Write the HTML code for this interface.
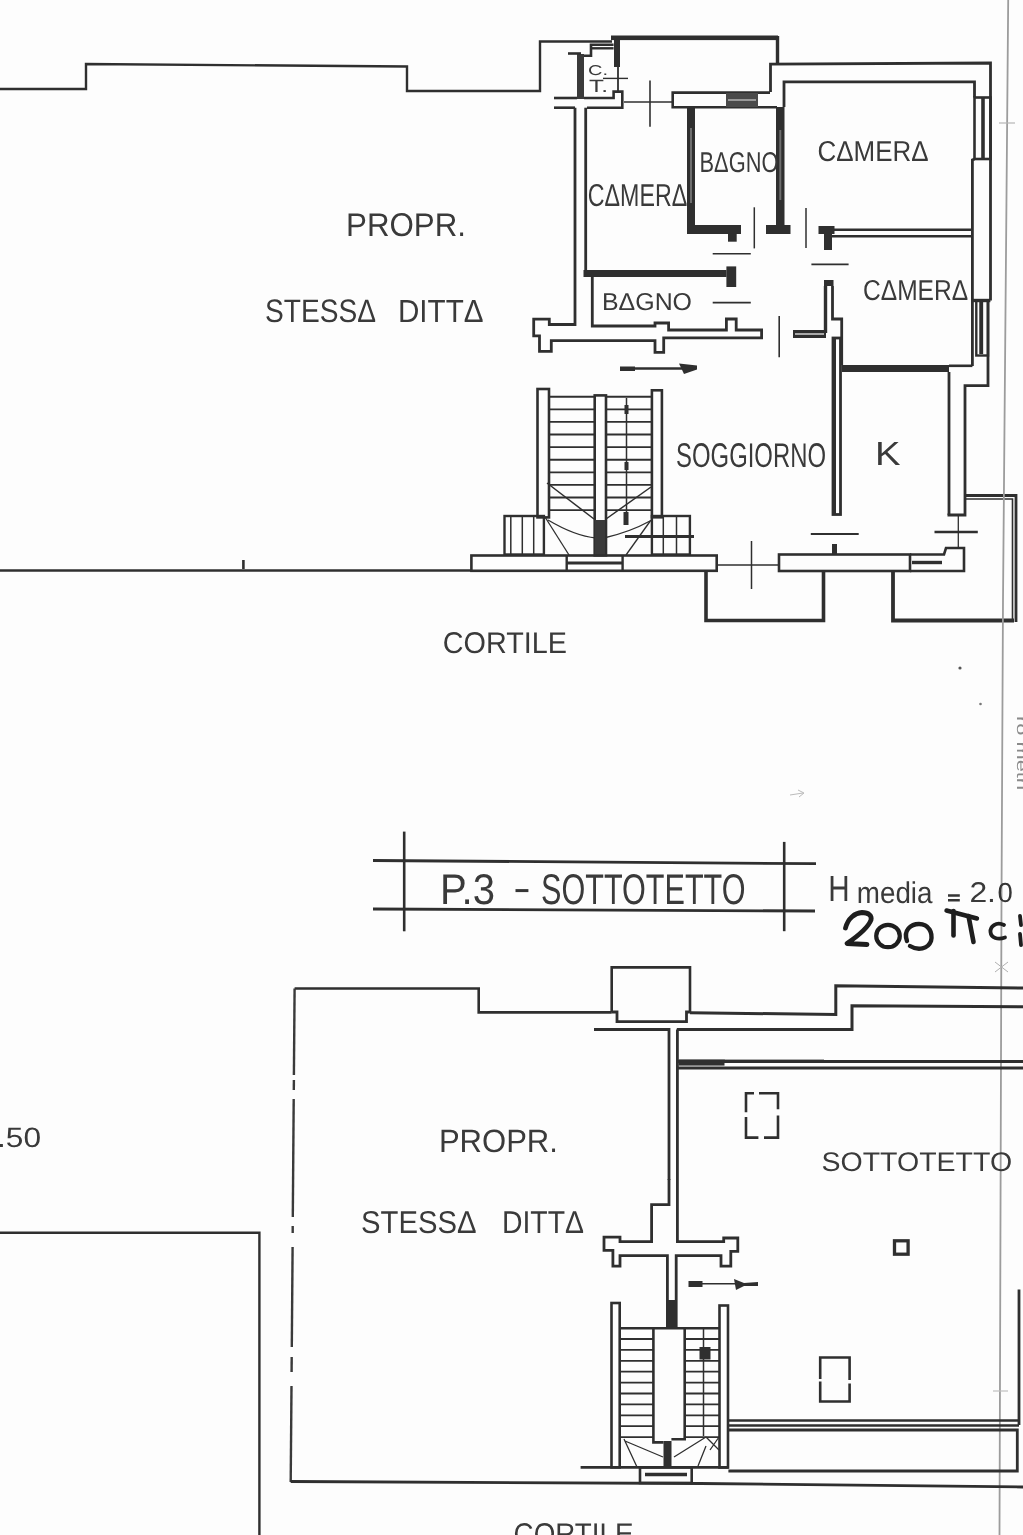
<!DOCTYPE html>
<html><head><meta charset="utf-8">
<style>
html,body{margin:0;padding:0;background:#fdfdfc;}
body{width:1023px;height:1535px;overflow:hidden;position:relative;}
svg{position:absolute;left:0;top:0;filter:grayscale(1) blur(0.4px);}
.t{font-family:"Liberation Sans",sans-serif;text-rendering:geometricPrecision;}
</style></head>
<body>
<svg width="1023" height="1535" viewBox="0 0 1023 1535">
<rect x="0" y="0" width="1023" height="1535" fill="#fdfdfc"/>
<path d="M0,89 H86 V64 L407,66.5 V91 H540 V41.5 H612" stroke="#2f2f2f" stroke-width="2.4" fill="none" />
<path d="M0,570.5 H472" stroke="#2f2f2f" stroke-width="2.4" fill="none" />
<path d="M243.4,560 V569" stroke="#2f2f2f" stroke-width="2.6" fill="none" />
<rect x="611" y="35.5" width="167" height="4.6" fill="#2f2f2f"/>
<rect x="614" y="36" width="6" height="31" fill="#2f2f2f"/>
<path d="M618,67 V92" stroke="#2f2f2f" stroke-width="1.8" fill="none" />
<path d="M777.5,36 V64.5" stroke="#2f2f2f" stroke-width="3.4" fill="none" />
<path d="M770.5,92 V64.2 L990.5,63 V300.5" stroke="#2f2f2f" stroke-width="2.8" fill="none" />
<path d="M988,300.5 V385.6 H965 V515 H947.5" stroke="#2f2f2f" stroke-width="2.8" fill="none" />
<path d="M784,107 V81.8 H974.5 V97.5" stroke="#2f2f2f" stroke-width="2.8" fill="none" />
<rect x="974.5" y="97.5" width="16" height="61.5" fill="none" stroke="#2f2f2f" stroke-width="2.6"/>
<path d="M983,98 V158" stroke="#2f2f2f" stroke-width="3.6" fill="none" />
<path d="M974.5,159 L972.4,160 V366" stroke="#2f2f2f" stroke-width="2.8" fill="none" />
<path d="M832,229.7 H972.4" stroke="#2f2f2f" stroke-width="2.6" fill="none" />
<path d="M832,236.3 H972.4" stroke="#2f2f2f" stroke-width="2.6" fill="none" />
<path d="M972.4,300.5 H990.4" stroke="#2f2f2f" stroke-width="3.4" fill="none" />
<rect x="976.3" y="300.5" width="11.7" height="55" fill="none" stroke="#2f2f2f" stroke-width="2.4"/>
<path d="M981.2,302 V354" stroke="#2f2f2f" stroke-width="3.9" fill="none" />
<rect x="842" y="365" width="107" height="7" fill="#2f2f2f"/>
<path d="M949,365.8 H972.4" stroke="#2f2f2f" stroke-width="2.6" fill="none" />
<path d="M949,372 V515" stroke="#2f2f2f" stroke-width="2.8" fill="none" />
<rect x="833" y="338" width="7.5" height="176.5" fill="none" stroke="#2f2f2f" stroke-width="2.8"/>
<rect x="833" y="338" width="3" height="176" fill="#2f2f2f"/>
<rect x="824" y="280" width="9.5" height="6" fill="#2f2f2f"/>
<path d="M825.5,286 V333" stroke="#2f2f2f" stroke-width="3.4" fill="none" />
<path d="M832.5,286 V319 H841.7 V365" stroke="#2f2f2f" stroke-width="2.8" fill="none" />
<rect x="793" y="330" width="33" height="8" fill="#2f2f2f"/>
<path d="M795,334 H824" stroke="#fcfcfa" stroke-width="1.2" fill="none" />
<rect x="687" y="107" width="8" height="127" fill="#2f2f2f"/>
<rect x="690" y="128" width="2" height="75" fill="#6e6e6e"/>
<rect x="687" y="225" width="54" height="9" fill="#2f2f2f"/>
<rect x="728" y="233.7" width="8.7" height="8" fill="#2f2f2f"/>
<rect x="776" y="107" width="8.5" height="120" fill="#2f2f2f"/>
<rect x="779.3" y="130" width="2" height="70" fill="#6e6e6e"/>
<rect x="766" y="225" width="24.5" height="9" fill="#2f2f2f"/>
<path d="M770,92.6 H672.7 V107.2 H777" stroke="#2f2f2f" stroke-width="2.6" fill="none" />
<rect x="726" y="93" width="32" height="14" fill="#4a4a4a"/>
<path d="M728,100 H756" stroke="#cfcfcf" stroke-width="1.2" fill="none" />
<path d="M624,102 H672.7" stroke="#2f2f2f" stroke-width="1.6" fill="none" />
<path d="M650,80.6 V126.8" stroke="#2f2f2f" stroke-width="1.6" fill="none" />
<rect x="577" y="54" width="7" height="45" fill="#3a3a3a"/>
<path d="M568,53.5 H581" stroke="#2f2f2f" stroke-width="2.6" fill="none" />
<path d="M613.6,44.7 H591 V55.7 H584" stroke="#2f2f2f" stroke-width="2.6" fill="none" />
<path d="M591,48.3 H613.6" stroke="#2f2f2f" stroke-width="2.4" fill="none" />
<path d="M584,98 H613.6 V91.6 H622.3 V107.7 H587" stroke="#2f2f2f" stroke-width="2.6" fill="none" />
<path d="M554,98 H577" stroke="#2f2f2f" stroke-width="2.6" fill="none" />
<path d="M554,107.7 H575" stroke="#2f2f2f" stroke-width="2.6" fill="none" />
<path d="M603,78.4 H628" stroke="#2f2f2f" stroke-width="1.4" fill="none" />
<path d="M575,107.7 V324.5 H549.3 V319.2 H533.7 V335.8 H539.5 V351.4 H551.3 V340.7 H655 V352.4 H663.7 V337.8 H761.6 V330 H736.2 V319 H726.4 V330 H668.6 V323 H655 V326 H592.3 V277" stroke="#2f2f2f" stroke-width="2.8" fill="none" />
<path d="M585.7,107.7 V270.5" stroke="#2f2f2f" stroke-width="2.8" fill="none" />
<rect x="583.5" y="270" width="143" height="7" fill="#2f2f2f"/>
<rect x="726.4" y="266.4" width="9.8" height="20.6" fill="#2f2f2f"/>
<path d="M754.3,207.3 V248.4" stroke="#2f2f2f" stroke-width="1.5" fill="none" />
<path d="M806,208 V248" stroke="#2f2f2f" stroke-width="1.5" fill="none" />
<path d="M712.7,253.7 H750.8" stroke="#2f2f2f" stroke-width="1.6" fill="none" />
<path d="M712.7,302.6 H750.8" stroke="#2f2f2f" stroke-width="1.6" fill="none" />
<path d="M811.4,264.4 H848.6" stroke="#2f2f2f" stroke-width="1.6" fill="none" />
<path d="M779.2,316 V357.3" stroke="#2f2f2f" stroke-width="1.6" fill="none" />
<rect x="818.5" y="226" width="16" height="8" fill="#2f2f2f"/>
<rect x="824" y="234" width="8" height="16" fill="#2f2f2f"/>
<path d="M622,368.5 H690" stroke="#2f2f2f" stroke-width="2.4" fill="none" />
<rect x="620" y="366.5" width="15" height="4.5" fill="#2f2f2f"/>
<path d="M679,363.5 L697,365.5 L697,369.5 L684,374 Z" fill="#2f2f2f"/>
<rect x="537.5" y="389" width="11.5" height="128.4" fill="none" stroke="#2f2f2f" stroke-width="2.6"/>
<rect x="651.9" y="390.3" width="10" height="127" fill="none" stroke="#2f2f2f" stroke-width="2.6"/>
<rect x="594.7" y="395.4" width="11.3" height="160" fill="none" stroke="#2f2f2f" stroke-width="2.6"/>
<path d="M549,396.7 H594.7" stroke="#2f2f2f" stroke-width="1.85" fill="none" />
<path d="M606,396.7 H651.9" stroke="#2f2f2f" stroke-width="1.85" fill="none" />
<path d="M549,409.3 H594.7" stroke="#2f2f2f" stroke-width="1.85" fill="none" />
<path d="M606,409.3 H651.9" stroke="#2f2f2f" stroke-width="1.85" fill="none" />
<path d="M549,421.9 H594.7" stroke="#2f2f2f" stroke-width="1.85" fill="none" />
<path d="M606,421.9 H651.9" stroke="#2f2f2f" stroke-width="1.85" fill="none" />
<path d="M549,434.5 H594.7" stroke="#2f2f2f" stroke-width="1.85" fill="none" />
<path d="M606,434.5 H651.9" stroke="#2f2f2f" stroke-width="1.85" fill="none" />
<path d="M549,447.1 H594.7" stroke="#2f2f2f" stroke-width="1.85" fill="none" />
<path d="M606,447.1 H651.9" stroke="#2f2f2f" stroke-width="1.85" fill="none" />
<path d="M549,459.7 H594.7" stroke="#2f2f2f" stroke-width="1.85" fill="none" />
<path d="M606,459.7 H651.9" stroke="#2f2f2f" stroke-width="1.85" fill="none" />
<path d="M549,472.3 H594.7" stroke="#2f2f2f" stroke-width="1.85" fill="none" />
<path d="M606,472.3 H651.9" stroke="#2f2f2f" stroke-width="1.85" fill="none" />
<path d="M549,484.9 H594.7" stroke="#2f2f2f" stroke-width="1.85" fill="none" />
<path d="M606,484.9 H651.9" stroke="#2f2f2f" stroke-width="1.85" fill="none" />
<path d="M549,497.5 H594.7" stroke="#2f2f2f" stroke-width="1.85" fill="none" />
<path d="M606,497.5 H651.9" stroke="#2f2f2f" stroke-width="1.85" fill="none" />
<path d="M549,510.1 H594.7" stroke="#2f2f2f" stroke-width="1.85" fill="none" />
<path d="M606,510.1 H651.9" stroke="#2f2f2f" stroke-width="1.85" fill="none" />
<rect x="504.5" y="516" width="39.4" height="38.5" fill="none" stroke="#2f2f2f" stroke-width="2.4"/>
<path d="M510.8,516 V554.5" stroke="#2f2f2f" stroke-width="1.5" fill="none" />
<path d="M522.3,516 V554.5" stroke="#2f2f2f" stroke-width="1.5" fill="none" />
<path d="M533.7,516 V554.5" stroke="#2f2f2f" stroke-width="1.5" fill="none" />
<rect x="651.9" y="516" width="38" height="38.5" fill="none" stroke="#2f2f2f" stroke-width="2.4"/>
<path d="M663.3,516 V554.5" stroke="#2f2f2f" stroke-width="1.5" fill="none" />
<path d="M676.5,516 V554.5" stroke="#2f2f2f" stroke-width="1.5" fill="none" />
<path d="M625,536.5 H694" stroke="#2f2f2f" stroke-width="3.0" fill="none" />
<path d="M547,483 L594,519" stroke="#2f2f2f" stroke-width="1.5" fill="none" />
<path d="M651,487 L606,519" stroke="#2f2f2f" stroke-width="1.5" fill="none" />
<path d="M545,517 L569,555" stroke="#2f2f2f" stroke-width="1.3" fill="none" />
<path d="M651,520 L626,555" stroke="#2f2f2f" stroke-width="1.3" fill="none" />
<path d="M548,520 Q575,536 596,538" stroke="#2f2f2f" stroke-width="1.3" fill="none" />
<path d="M604,538 Q630,532 650,521" stroke="#2f2f2f" stroke-width="1.3" fill="none" />
<path d="M626.5,398 V525" stroke="#2f2f2f" stroke-width="1.5" fill="none" />
<rect x="624.5" y="405" width="4" height="9" fill="#2f2f2f"/>
<rect x="624.5" y="462" width="4" height="8" fill="#2f2f2f"/>
<rect x="623.5" y="512" width="5" height="13" fill="#2f2f2f"/>
<rect x="595" y="520" width="10" height="35" fill="#3a3a3a"/>
<rect x="471.4" y="555.5" width="245.3" height="15.3" fill="none" stroke="#2f2f2f" stroke-width="2.6"/>
<path d="M566.7,555.5 V570.8 M622.6,555.5 V570.8" stroke="#2f2f2f" stroke-width="2.4" fill="none" />
<path d="M566.7,563 H622.6" stroke="#2f2f2f" stroke-width="2.9" fill="none" />
<path d="M716.7,565 H779" stroke="#2f2f2f" stroke-width="1.5" fill="none" />
<path d="M751.5,541 V589" stroke="#2f2f2f" stroke-width="1.5" fill="none" />
<rect x="779" y="554.5" width="131" height="16.5" fill="none" stroke="#2f2f2f" stroke-width="2.6"/>
<path d="M912,562.5 H942" stroke="#2f2f2f" stroke-width="3.4" fill="none" />
<path d="M910,554.5 H944 L946,548 H964 V571 H910" stroke="#2f2f2f" stroke-width="2.6" fill="none" />
<rect x="832" y="544" width="5" height="10.5" fill="#2f2f2f"/>
<path d="M706,571 V620.5 H823.5 V571" stroke="#2f2f2f" stroke-width="3.6" fill="none" />
<path d="M893,571 V620.5 H1014" stroke="#2f2f2f" stroke-width="3.8" fill="none" />
<path d="M964,495.5 H1016 V622" stroke="#2f2f2f" stroke-width="2.8" fill="none" />
<path d="M964,499 H1012.5 V619" stroke="#2f2f2f" stroke-width="1.6" fill="none" />
<path d="M958.3,515 V548" stroke="#2f2f2f" stroke-width="1.3" fill="none" />
<path d="M934.5,532 H977.8" stroke="#2f2f2f" stroke-width="2.4" fill="none" />
<path d="M810.8,534 H858.7" stroke="#2f2f2f" stroke-width="1.8" fill="none" />
<path d="M1008.2,0 L1003,600 L1001.5,900 L999.5,1535" stroke="#9c9c9c" stroke-width="1.8" fill="none" />
<path d="M999,123 H1015" stroke="#b5b5b5" stroke-width="1.2" fill="none" />
<path d="M993,1391 H1008" stroke="#c0c0c0" stroke-width="1.2" fill="none" />
<path d="M995,962 L1008,972 M1008,962 L995,972" stroke="#b0b0b0" stroke-width="1" fill="none" />
<text x="0" y="0" font-size="14" fill="#8a8a8a" class="t" transform="translate(1016.5,716) rotate(90)" textLength="74" lengthAdjust="spacingAndGlyphs">ro metri</text>
<path d="M373,860.5 L816,863.7" stroke="#2f2f2f" stroke-width="2.8" fill="none" />
<path d="M373,909 L815,911" stroke="#2f2f2f" stroke-width="2.8" fill="none" />
<path d="M404.2,831.6 V931.3" stroke="#2f2f2f" stroke-width="2.6" fill="none" />
<path d="M784.2,841.9 V931.2" stroke="#2f2f2f" stroke-width="2.6" fill="none" />
<path d="M845.5,928 C848,918 855,913 862,912.5 C869,912.5 872,916 871,920 C868,928 855,938 847,943.5 L867,944.5" stroke="#1e1e1e" stroke-width="4.8" fill="none" stroke-linecap="round" stroke-linejoin="round"/>
<ellipse cx="888" cy="936" rx="11.8" ry="11.2" stroke="#1e1e1e" stroke-width="4.2" fill="none"/>
<path d="M907,941 C903,930 911,924 919,924 C929,924 933,933 931,941 C928,949 918,951 910,946" stroke="#1e1e1e" stroke-width="4.4" fill="none" stroke-linecap="round" stroke-linejoin="round"/>
<path d="M946.5,910.5 L977,918.5" stroke="#1e1e1e" stroke-width="4.4" fill="none" stroke-linecap="round" stroke-linejoin="round"/>
<path d="M953.5,911 L953.5,935.5" stroke="#1e1e1e" stroke-width="4.6" fill="none" stroke-linecap="round" stroke-linejoin="round"/>
<path d="M968.5,916 L973.5,942" stroke="#1e1e1e" stroke-width="4.6" fill="none" stroke-linecap="round" stroke-linejoin="round"/>
<path d="M1004,925 C996,921 990,927 990.5,932 C991,938 998,940 1005,937.5" stroke="#1e1e1e" stroke-width="3.8" fill="none" stroke-linecap="round" stroke-linejoin="round"/>
<path d="M1020,916 L1021,925 M1020,934 L1021,945" stroke="#1e1e1e" stroke-width="3.8" fill="none" stroke-linecap="round" stroke-linejoin="round"/>
<circle cx="960" cy="668" r="1.6" fill="#555"/>
<circle cx="980.5" cy="704" r="1.3" fill="#777"/>
<path d="M790,795 L803,793 M798,790 L804,793 L799,797" stroke="#bbb" stroke-width="1" fill="none" />
<path d="M294.6,988.5 H478.7 V1012.4 H611.7" stroke="#2f2f2f" stroke-width="2.6" fill="none" />
<path d="M294.6,988.5 L293.9,1075" stroke="#3a3a3a" stroke-width="2.4" fill="none" />
<path d="M293.9,1080 L293.8,1090" stroke="#3a3a3a" stroke-width="2.4" fill="none" />
<path d="M293.7,1099 L292.8,1217" stroke="#3a3a3a" stroke-width="2.4" fill="none" />
<path d="M292.7,1226 L292.7,1233" stroke="#3a3a3a" stroke-width="2.4" fill="none" />
<path d="M292.6,1247 L291.8,1347" stroke="#3a3a3a" stroke-width="2.4" fill="none" />
<path d="M291.7,1357 L291.6,1372" stroke="#3a3a3a" stroke-width="2.4" fill="none" />
<path d="M291.5,1386 L290.7,1482" stroke="#3a3a3a" stroke-width="2.4" fill="none" />
<path d="M611.7,1012.4 V967.4 H690 V1012.8" stroke="#2f2f2f" stroke-width="2.6" fill="none" />
<path d="M611.7,1012 H617 V1021.6 H686.5 V1012 H690" stroke="#2f2f2f" stroke-width="2.8" fill="none" />
<path d="M690,1012.8 L835.8,1014.5 V985.7 L1023,988" stroke="#2f2f2f" stroke-width="3.0" fill="none" />
<path d="M594,1029.5 H669 V1180" stroke="#2f2f2f" stroke-width="2.8" fill="none" />
<path d="M676.8,1029.5 H852 V1005.8 L1023,1006.8" stroke="#2f2f2f" stroke-width="3.0" fill="none" />
<rect x="678.5" y="1059.4" width="46" height="6.2" fill="#2f2f2f"/>
<rect x="724" y="1059.6" width="100" height="3.4" fill="#2f2f2f"/>
<path d="M677.7,1061.5 H1023" stroke="#2f2f2f" stroke-width="2.8" fill="none" />
<path d="M677.7,1068 H1023" stroke="#2f2f2f" stroke-width="2.8" fill="none" />
<path d="M754,1093.2 H746 V1112.3 M746,1117 V1137.6 H758.4 M764,1137.6 H778 V1115.5 M778,1109.3 V1093.2 H759" stroke="#2f2f2f" stroke-width="2.6" fill="none" />
<rect x="894.5" y="1240.8" width="13.6" height="13.4" fill="none" stroke="#2f2f2f" stroke-width="3.3"/>
<path d="M820.2,1379 V1357.5 H849.6 V1380 M849.6,1383.6 V1401.5 H820.2 V1381.5" stroke="#2f2f2f" stroke-width="2.6" fill="none" />
<path d="M669,1179 V1204.6 H651.6 V1241.6 H620 V1237.2 H604 V1250.4 H612.9 V1266.2 H620 V1255.7 H667.4 V1328" stroke="#2f2f2f" stroke-width="2.8" fill="none" />
<path d="M677.4,1029.5 V1241.6 H723.7 V1238 H737.8 V1251.3 H730.8 V1266.2 H721 V1255.7 H676.2 V1328" stroke="#2f2f2f" stroke-width="2.8" fill="none" />
<rect x="667.5" y="1300" width="9" height="28" fill="#2f2f2f"/>
<path d="M690,1283.8 H750" stroke="#2f2f2f" stroke-width="1.6" fill="none" />
<rect x="688.5" y="1281" width="14" height="6" fill="#2f2f2f"/>
<path d="M734,1279 L744,1283 L758,1282 L758,1286 L744,1286 L736,1290 Z" fill="#2f2f2f"/>
<rect x="611.5" y="1303" width="8.2" height="164.4" fill="none" stroke="#2f2f2f" stroke-width="2.6"/>
<rect x="719.5" y="1305.5" width="8.5" height="162" fill="none" stroke="#2f2f2f" stroke-width="2.6"/>
<path d="M619.7,1328.2 H719.5" stroke="#2f2f2f" stroke-width="2.4" fill="none" />
<path d="M653.4,1329 V1442.4 H663.5 M684.7,1329 V1439.3 H671.4" stroke="#2f2f2f" stroke-width="2.6" fill="none" />
<path d="M619.7,1339.0 H653.4" stroke="#2f2f2f" stroke-width="1.8" fill="none" />
<path d="M684.7,1339.0 H719.5" stroke="#2f2f2f" stroke-width="1.8" fill="none" />
<path d="M619.7,1349.9 H653.4" stroke="#2f2f2f" stroke-width="1.8" fill="none" />
<path d="M684.7,1349.9 H719.5" stroke="#2f2f2f" stroke-width="1.8" fill="none" />
<path d="M619.7,1360.8 H653.4" stroke="#2f2f2f" stroke-width="1.8" fill="none" />
<path d="M684.7,1360.8 H719.5" stroke="#2f2f2f" stroke-width="1.8" fill="none" />
<path d="M619.7,1371.7 H653.4" stroke="#2f2f2f" stroke-width="1.8" fill="none" />
<path d="M684.7,1371.7 H719.5" stroke="#2f2f2f" stroke-width="1.8" fill="none" />
<path d="M619.7,1382.6 H653.4" stroke="#2f2f2f" stroke-width="1.8" fill="none" />
<path d="M684.7,1382.6 H719.5" stroke="#2f2f2f" stroke-width="1.8" fill="none" />
<path d="M619.7,1393.5 H653.4" stroke="#2f2f2f" stroke-width="1.8" fill="none" />
<path d="M684.7,1393.5 H719.5" stroke="#2f2f2f" stroke-width="1.8" fill="none" />
<path d="M619.7,1404.4 H653.4" stroke="#2f2f2f" stroke-width="1.8" fill="none" />
<path d="M684.7,1404.4 H719.5" stroke="#2f2f2f" stroke-width="1.8" fill="none" />
<path d="M619.7,1415.3 H653.4" stroke="#2f2f2f" stroke-width="1.8" fill="none" />
<path d="M684.7,1415.3 H719.5" stroke="#2f2f2f" stroke-width="1.8" fill="none" />
<path d="M619.7,1426.2 H653.4" stroke="#2f2f2f" stroke-width="1.8" fill="none" />
<path d="M684.7,1426.2 H719.5" stroke="#2f2f2f" stroke-width="1.8" fill="none" />
<path d="M619.7,1437.1 H653.4" stroke="#2f2f2f" stroke-width="1.8" fill="none" />
<path d="M684.7,1437.1 H719.5" stroke="#2f2f2f" stroke-width="1.8" fill="none" />
<path d="M703.5,1329 V1436" stroke="#2f2f2f" stroke-width="1.5" fill="none" />
<rect x="699.5" y="1347" width="11" height="12.5" fill="#2f2f2f"/>
<rect x="663.5" y="1441" width="8" height="26.4" fill="#2f2f2f"/>
<path d="M624,1439 L637,1467 M625,1441 L663,1457 M706,1437 L674,1457 M706,1446 L698,1466 M706,1437 L719,1450 M710,1450 L719,1437" stroke="#2f2f2f" stroke-width="1.3" fill="none" />
<path d="M580.6,1467.4 H728.4" stroke="#2f2f2f" stroke-width="2.6" fill="none" />
<rect x="640" y="1467.4" width="51.7" height="15.6" fill="none" stroke="#2f2f2f" stroke-width="2.6"/>
<path d="M645,1474.5 H687" stroke="#2f2f2f" stroke-width="3.4" fill="none" />
<path d="M727.7,1420.5 H1019" stroke="#2f2f2f" stroke-width="2.6" fill="none" />
<path d="M727.7,1425.5 H1019" stroke="#2f2f2f" stroke-width="2.4" fill="none" />
<path d="M1019,1289.5 V1425" stroke="#2f2f2f" stroke-width="2.8" fill="none" />
<path d="M728.4,1430 H1017.3 V1471 H728.4" stroke="#2f2f2f" stroke-width="2.8" fill="none" />
<path d="M290.7,1481.5 L700,1483.5 L1023,1487" stroke="#2f2f2f" stroke-width="2.8" fill="none" />
<path d="M0,1232.7 H259.4 V1535" stroke="#2f2f2f" stroke-width="2.4" fill="none" />
<g opacity="0.99">
<text x="346.0" y="236.20000000000002" font-size="32.8" fill="#383838" class="t" textLength="120.0" lengthAdjust="spacingAndGlyphs" >PROPR.</text>
<text x="265.0" y="322.0" font-size="32.5" fill="#383838" class="t" textLength="111.0" lengthAdjust="spacingAndGlyphs" >STESSΔ</text>
<text x="587.8000000000001" y="206.0" font-size="31.68" fill="#383838" class="t" textLength="99.39999999999995" lengthAdjust="spacingAndGlyphs" >CΔMERΔ</text>
<text x="699.5" y="172.0" font-size="28.7" fill="#383838" class="t" textLength="78.89999999999995" lengthAdjust="spacingAndGlyphs" >BΔGNO</text>
<text x="817.5" y="161.0" font-size="28.82" fill="#383838" class="t" textLength="111.0" lengthAdjust="spacingAndGlyphs" >CΔMERΔ</text>
<text x="863.0" y="299.8" font-size="28.82" fill="#383838" class="t" textLength="105.10000000000005" lengthAdjust="spacingAndGlyphs" >CΔMERΔ</text>
<text x="602.0" y="310.2" font-size="24.4" fill="#383838" class="t" textLength="90.0" lengthAdjust="spacingAndGlyphs" >BΔGNO</text>
<text x="676.1" y="466.5" font-size="34.22" fill="#383838" class="t" textLength="149.89999999999995" lengthAdjust="spacingAndGlyphs" >SOGGIORNO</text>
<text x="875.0" y="465.09999999999997" font-size="33.38" fill="#383838" class="t" textLength="25.5" lengthAdjust="spacingAndGlyphs" >K</text>
<text x="442.8" y="652.6" font-size="29.95" fill="#383838" class="t" textLength="124.19999999999997" lengthAdjust="spacingAndGlyphs" >CORTILE</text>
<text x="440.0" y="903.5" font-size="42.91" fill="#383838" class="t" textLength="55.0" lengthAdjust="spacingAndGlyphs" >P.3</text>
<text x="438.90000000000003" y="1152.0" font-size="32.26" fill="#383838" class="t" textLength="118.99999999999994" lengthAdjust="spacingAndGlyphs" >PROPR.</text>
<text x="361.0" y="1233.0" font-size="31.57" fill="#383838" class="t" textLength="115.5" lengthAdjust="spacingAndGlyphs" >STESSΔ</text>
<text x="821.5" y="1171.0" font-size="26.93" fill="#383838" class="t" textLength="190.60000000000005" lengthAdjust="spacingAndGlyphs" >SOTTOTETTO</text>
<text x="513.6" y="1543.5" font-size="29.95" fill="#383838" class="t" textLength="119.89999999999995" lengthAdjust="spacingAndGlyphs" >CORTILE</text>
<text x="-3.0" y="1147.1000000000001" font-size="27.94" fill="#383838" class="t" textLength="44.0" lengthAdjust="spacingAndGlyphs" >.50</text>
<text x="588.0" y="74.5" font-size="14.17" fill="#383838" class="t" textLength="20.0" lengthAdjust="spacingAndGlyphs" >C.</text>
<text x="589.0" y="91.8" font-size="17.66" fill="#383838" class="t" textLength="19.0" lengthAdjust="spacingAndGlyphs" >T.</text>
<text x="541.0" y="903.5" font-size="42.91" fill="#383838" class="t" textLength="204.5" lengthAdjust="spacingAndGlyphs" >SOTTOTETTO</text>
<text x="828.1999999999999" y="900.8000000000001" font-size="36.46" fill="#383838" class="t" textLength="21.400000000000023" lengthAdjust="spacingAndGlyphs" >H</text>
<text x="856.8000000000001" y="902.8000000000001" font-size="30.04" fill="#383838" class="t" textLength="75.69999999999996" lengthAdjust="spacingAndGlyphs" >media</text>
<text x="969.4" y="901.8000000000001" font-size="28.5" fill="#383838" class="t" textLength="26.599999999999977" lengthAdjust="spacingAndGlyphs" >2.</text>
<text x="398.0" y="322.0" font-size="31.87" fill="#383838" class="t" textLength="85.49999999999997" lengthAdjust="spacingAndGlyphs" >DITTΔ</text>
<text x="502.0" y="1233.0" font-size="31.57" fill="#383838" class="t" textLength="81.99999999999999" lengthAdjust="spacingAndGlyphs" >DITTΔ</text>
<path d="M515.5,890.6 H528.4" stroke="#333" stroke-width="3.0" fill="none" />
<path d="M948,895.5 H959.8 M948,900.3 H959.8" stroke="#333" stroke-width="2.4" fill="none" />
<text x="997.5" y="902.2" font-size="27.5" letter-spacing="0" fill="#333" class="t" >0</text>
</g>
</svg>
</body></html>
